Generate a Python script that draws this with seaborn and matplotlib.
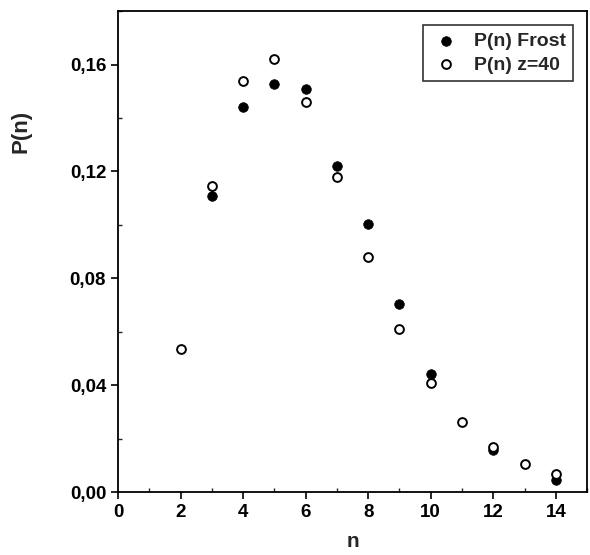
import matplotlib
matplotlib.use("Agg")
import matplotlib.pyplot as plt
import seaborn as sns
import pandas as pd
from matplotlib.ticker import MultipleLocator, FixedLocator, FixedFormatter

# values
n_frost = [3, 4, 5, 6, 7, 8, 9, 10, 12, 14]
p_frost = [0.1107, 0.1441, 0.1527, 0.1508, 0.1220, 0.1005, 0.0703, 0.0442, 0.0157, 0.0045]

n_z40 = [2, 3, 4, 5, 6, 7, 8, 9, 10, 11, 12, 13, 14]
p_z40 = [0.0536, 0.1146, 0.1540, 0.1620, 0.1459, 0.1180, 0.0880, 0.0610, 0.0408,
         0.0262, 0.0169, 0.0104, 0.0067]

x_ticks = [0, 2, 4, 6, 8, 10, 12, 14]
y_ticks = [0.00, 0.04, 0.08, 0.12, 0.16]
y_tick_labels = ["0,00", "0,04", "0,08", "0,12", "0,16"]

df_frost = pd.DataFrame({"n": n_frost, "P": p_frost})
df_z40 = pd.DataFrame({"n": n_z40, "P": p_z40})

sns.set_style("ticks")
plt.rcParams['font.family'] = ['Liberation Sans', 'DejaVu Sans']

fig = plt.figure(figsize=(5.9, 5.55), dpi=100)
ax = fig.add_axes([0.2, 0.113, 0.795, 0.867])

sns.scatterplot(data=df_frost, x="n", y="P", ax=ax, s=48, color="black",
                edgecolor="black", linewidth=0.5, label="P(n) Frost", zorder=3)
sns.scatterplot(data=df_z40, x="n", y="P", ax=ax, s=40, facecolor="white",
                edgecolor="black", linewidth=1.4, label="P(n) z=40", zorder=4)

ax.set_xlim(0, 15)
ax.set_ylim(0, 0.18)
ax.xaxis.set_major_locator(FixedLocator(x_ticks))
ax.xaxis.set_minor_locator(MultipleLocator(1))
ax.yaxis.set_major_locator(FixedLocator(y_ticks))
ax.yaxis.set_major_formatter(FixedFormatter(y_tick_labels))
ax.yaxis.set_minor_locator(MultipleLocator(0.02))

ax.tick_params(which="major", direction="out", length=5, width=1.2,
               labelsize=13.5, colors="black")
ax.tick_params(which="minor", direction="in", length=3, width=1)
for lab in ax.get_xticklabels() + ax.get_yticklabels():
    lab.set_fontweight("bold")

for sp in ax.spines.values():
    sp.set_visible(True)
    sp.set_linewidth(1.3)
    sp.set_color("black")

ax.set_xlabel("n", fontsize=15, fontweight="bold")
ax.set_ylabel("P(n)", fontsize=16, fontweight="bold")
ax.xaxis.set_label_coords(0.5, -0.082)
ax.yaxis.set_label_coords(-0.185, 0.75)

leg = ax.legend(loc="upper right", frameon=True, fancybox=False,
                prop={"weight": "bold", "size": 14}, borderaxespad=0.7,
                handletextpad=0.6, handlelength=1.6, borderpad=0.4,
                labelspacing=0.3)
leg.get_frame().set_edgecolor("black")
leg.get_frame().set_linewidth(1.2)

fig.savefig("out.png", dpi=100)
